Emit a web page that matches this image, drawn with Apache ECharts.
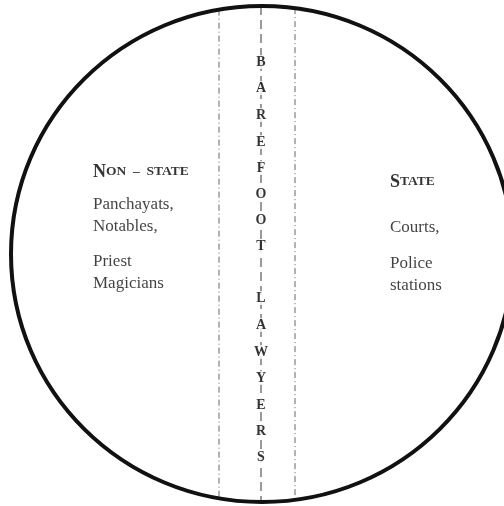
<!DOCTYPE html>
<html>
<head>
<meta charset="utf-8">
<script src="https://cdn.jsdelivr.net/npm/echarts@6/dist/echarts.min.js"></script>
<style>
  html, body { margin: 0; padding: 0; background: #fff; }
  #diagram { width: 504px; height: 506px; }
</style>
</head>
<body>
<div id="diagram"></div>
<script>
// outline of the round frame (page units, y grows downward)
var ring = { cx: 262, cy: 254, rx: 251, ry: 248 };
// the three vertical separators
var dividerX = [219, 261, 295];
// vertical word down the middle
var letters = ['B', 'A', 'R', 'E', 'F', 'O', 'O', 'T', '', 'L', 'A', 'W', 'Y', 'E', 'R', 'S'];
var letterY = [62, 88, 115, 142, 168, 194, 220, 246, 272, 298, 325, 352, 378, 405, 431, 457];
// left block
var leftHead = ['N', 'ON  –  STATE'];
var leftItems = ['Panchayats,', 'Notables,', 'Priest', 'Magicians'];
var leftY = [172, 205, 227, 262, 284];
// right block
var rightHead = ['S', 'TATE'];
var rightItems = ['Courts,', 'Police', 'stations'];
var rightY = [182, 228, 264, 286];
var leftX = 93, rightX = 390;

var serif = 'Liberation Serif';

function edgeAt(x, sign) {
  var t = (x - ring.cx) / ring.rx;
  return ring.cy + sign * ring.ry * Math.sqrt(1 - t * t);
}

var myChart = echarts.init(document.getElementById('diagram'));

var dividerSeries = dividerX.map(function (x, i) {
  var middle = i === 1;
  return {
    type: 'line',
    silent: true,
    symbol: 'none',
    z: 1,
    data: [[x, edgeAt(x, -1)], [x, edgeAt(x, 1)]],
    lineStyle: middle
      ? { color: '#9a9a9a', width: 2, type: [9, 5] }
      : { color: '#666', width: 1, type: [6, 3, 1, 3] }
  };
});

function textPoint(x, y, text) {
  return { value: [x, y], label: { formatter: text } };
}

option = {
  animation: false,
  grid: { left: 0, right: 0, top: 0, bottom: 0 },
  xAxis: { type: 'value', min: 0, max: 504, show: false },
  yAxis: { type: 'value', min: 0, max: 506, inverse: true, show: false },
  series: dividerSeries.concat([
    {
      type: 'custom',
      silent: true,
      z: 2,
      data: [[ring.cx, ring.cy, ring.rx, ring.ry]],
      renderItem: function (params, api) {
        var c = api.coord([api.value(0), api.value(1)]);
        var s = api.size([api.value(2), api.value(3)]);
        return {
          type: 'ellipse',
          shape: { cx: c[0], cy: c[1], rx: s[0], ry: s[1] },
          style: { fill: null, stroke: '#111', lineWidth: 4 }
        };
      }
    },
    {
      type: 'scatter',
      symbolSize: 0,
      z: 5,
      data: letters.map(function (l, i) {
        return { value: [dividerX[1], letterY[i]], name: l };
      }).filter(function (d) { return d.name !== ''; }),
      label: {
        show: true,
        position: 'inside',
        formatter: '{b}',
        fontFamily: serif,
        fontWeight: 700,
        fontSize: 14,
        color: '#000',
        backgroundColor: '#fff',
        padding: [0, 1]
      }
    },
    {
      type: 'scatter',
      symbolSize: 0,
      z: 5,
      data: [
        textPoint(leftX, leftY[0], '{a|' + leftHead[0] + '}{b|' + leftHead[1] + '}'),
        textPoint(rightX, rightY[0], '{a|' + rightHead[0] + '}{b|' + rightHead[1] + '}')
      ],
      label: {
        show: true,
        position: 'inside',
        align: 'left',
        verticalAlign: 'middle',
        color: '#000',
        fontWeight: 700,
        rich: {
          a: { fontFamily: serif, fontWeight: 700, fontSize: 18, color: '#000' },
          b: { fontFamily: serif, fontWeight: 700, fontSize: 13.5, color: '#000' }
        }
      }
    },
    {
      type: 'scatter',
      symbolSize: 0,
      z: 5,
      data: leftItems.map(function (t, i) { return textPoint(leftX, leftY[i + 1], t); })
        .concat(rightItems.map(function (t, i) { return textPoint(rightX, rightY[i + 1], t); })),
      label: {
        show: true,
        position: 'inside',
        align: 'left',
        verticalAlign: 'middle',
        fontFamily: serif,
        fontSize: 17,
        color: '#111'
      }
    }
  ])
};

myChart.setOption(option);
</script>
</body>
</html>
